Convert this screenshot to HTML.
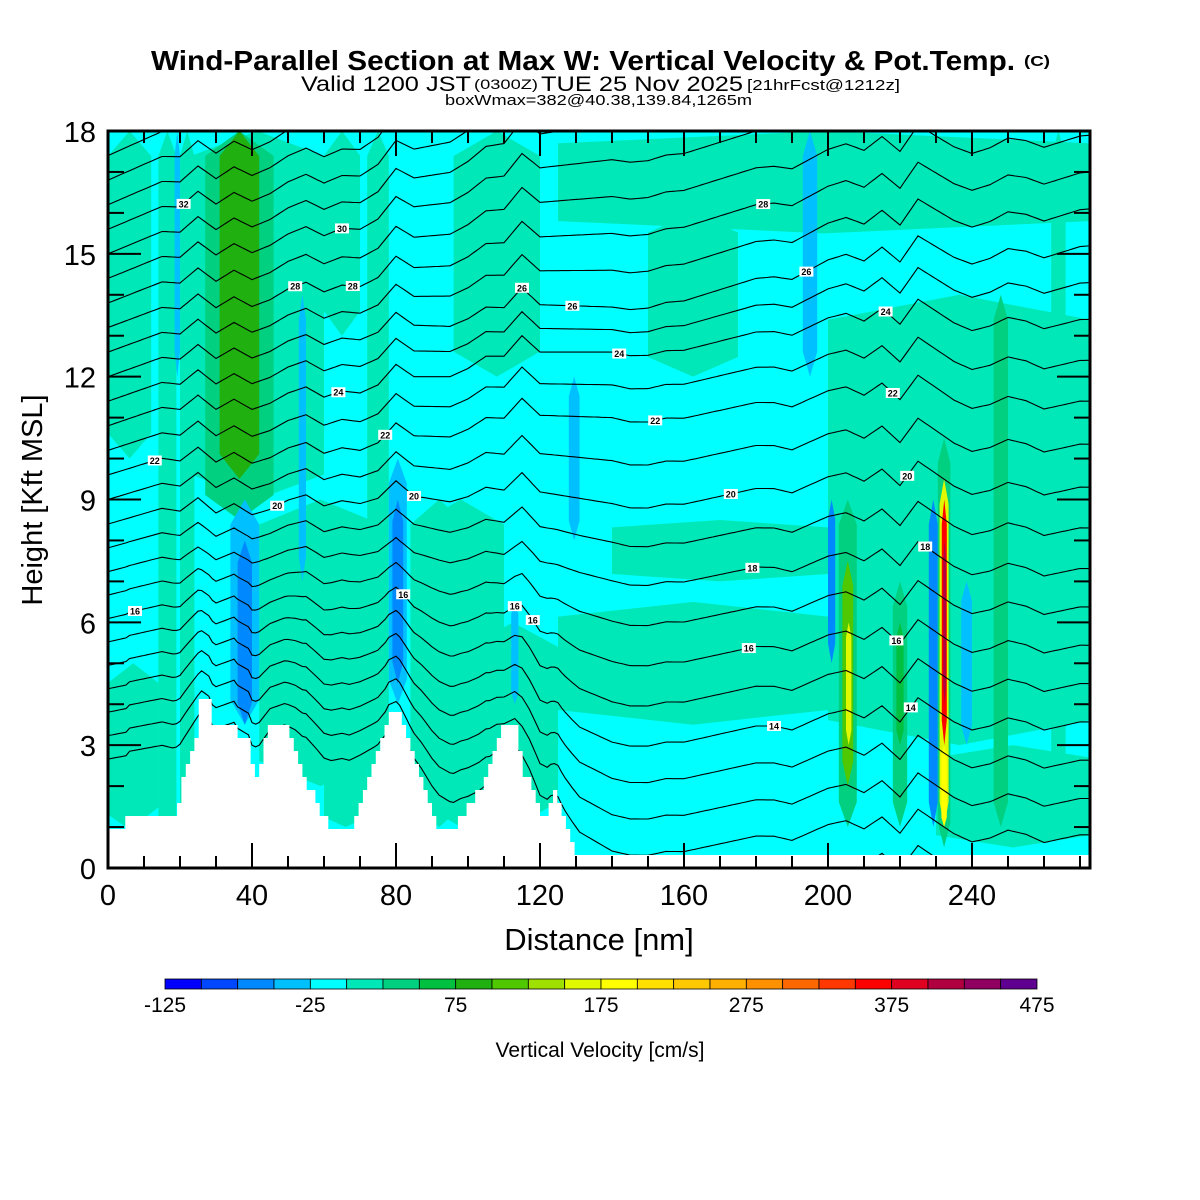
<!DOCTYPE html>
<html><head><meta charset="utf-8"><style>
html,body{margin:0;padding:0;background:#fff;}
svg{display:block;font-family:"Liberation Sans",sans-serif;}
</style></head><body>
<svg id="chart" width="1200" height="1200" viewBox="0 0 1200 1200" xmlns="http://www.w3.org/2000/svg">
<rect x="0" y="0" width="1200" height="1200" fill="#fff"/>
<g>
<text x="151" y="70" font-size="28" font-weight="bold" textLength="864" lengthAdjust="spacingAndGlyphs">Wind-Parallel Section at Max W: Vertical Velocity &amp; Pot.Temp.</text>
<text x="1024" y="66" font-size="15" font-weight="bold" textLength="26" lengthAdjust="spacingAndGlyphs">(C)</text>
</g>
<g>
<text x="301" y="91" font-size="21" textLength="170" lengthAdjust="spacingAndGlyphs">Valid 1200 JST</text>
<text x="474" y="89" font-size="14" textLength="64" lengthAdjust="spacingAndGlyphs">(0300Z)</text>
<text x="541" y="91" font-size="21" textLength="202" lengthAdjust="spacingAndGlyphs">TUE 25 Nov 2025</text>
<text x="747" y="90" font-size="15" textLength="153" lengthAdjust="spacingAndGlyphs">[21hrFcst@1212z]</text>
</g>
<text x="445" y="105" font-size="15" textLength="307" lengthAdjust="spacingAndGlyphs">boxWmax=382@40.38,139.84,1265m</text>
<defs><clipPath id="plotclip"><rect x="108" y="131" width="982" height="737"/></clipPath></defs>
<g id="plot" clip-path="url(#plotclip)">
<rect x="108" y="131" width="982" height="737" fill="#00ffff"/>
<g id="field"></g>
<g id="contours" fill="none" stroke="#000" stroke-width="1.1"></g>
<path id="terrain" fill="#fff" stroke="none"/>
<g id="clabels"></g>
</g>
<rect x="108" y="131" width="982" height="737" fill="none" stroke="#000" stroke-width="3"/>
<g id="ticks" stroke="#000" stroke-width="2"></g>
<g id="xlabels" font-size="29" text-anchor="middle"></g>
<g id="ylabels" font-size="29" text-anchor="end"></g>
<text x="599" y="950" font-size="31" text-anchor="middle">Distance [nm]</text>
<text transform="translate(42,500) rotate(-90)" font-size="29" text-anchor="middle">Height [Kft MSL]</text>
<g id="colorbar"></g>
<g id="cblabels" font-size="21" text-anchor="middle"></g>
<text x="600" y="1057" font-size="21" text-anchor="middle">Vertical Velocity [cm/s]</text>
</svg>
<script>
// ---- data ----
const cbBins = [-125,-100,-75,-50,-25,0,25,50,75,100,125,150,175,200,225,250,275,300,325,350,375,400,425,450,475];
const cbColors = ["#0000ff","#0048ff","#0088ff","#00c0ff","#00ffff","#00e8b8","#00d080","#00c040","#20b010","#50c800","#a0e000","#e0f800","#ffff00","#ffe000","#ffc800","#ffb000","#ff9000","#ff6800","#ff3800","#ff0000","#e00020","#b00040","#900060","#600090"];
const cbTickLabels = [-125,-25,75,175,275,375,475];
const xTickLabels = [0,40,80,120,160,200,240];
const yTickLabels = [0,3,6,9,12,15,18];
// terrain breakpoints: distance (nm), height (kft)
const terrNm = [0,5,5.5,18.5,25,26,28,29,35,36,39,40,41.5,45,49,52,54,58,62,67,74,77,78,81,84,87,90,92,96,98,103,106,108,110,113,115,117,119,120,122,123.5,125,126.5,129,131,273];
const terrK = [0.93,0.93,1.27,1.27,3.4,4.15,4.15,3.55,3.55,3.2,3.2,2.5,2.2,3.55,3.55,2.9,2.2,1.6,0.93,0.93,2.5,3.3,3.85,3.85,2.9,2.2,1.3,0.93,0.93,1.3,1.9,2.5,3.2,3.55,3.55,2.5,2.2,1.6,1.3,1.3,1.9,1.9,1.3,0.7,0.3,0.3];
// vertical velocity features: nm start, nm end, kft bottom, kft top, w (cm/s)
const wX0 = [42,86,0,0,14,20,23,27,31,60,72,84,100,125,140,200,125,230,44,60,0,18.5,34,36,53,78,79,112,128,193,200,203,204,205,218,219,228,237,230.5,231,231.5,231.6,232,246,262,150,96];
const wX1 = [76,110,14,12,19,24,60,46,42,70,78,100,125,200,200,272.8,272.8,272.8,52,72,10,20,42,40,55,83,82,114,131,197,202,208,207,206.5,222,221,230.5,240,234,233.5,233,233,232.8,250,266,175,120];
const wK0 = [2,1,1,10,0,0,9,8.5,9.5,13,0,1,1,3.5,7,3,15.5,0.5,2.5,1,1,12,3.5,3.5,7,4,4.5,4,8,12,5,1,2,3,1,3,1,3,0.5,1,1,3,4,1,1,12,12];
const wK1 = [9,9,5,18,18,18,18,18,18,18,18,9,6,6.5,8.5,14,18,3,5,3,3.5,18,9,8,14,10,9,6.5,12,18,9,9,7.5,6,7,6,9,7,10.5,9.5,3,9,8,14,18,16,18];
const wVal = [10,10,10,10,10,10,10,35,85,10,10,10,10,10,10,10,10,10,10,10,10,-40,-40,-60,-40,-40,-60,-40,-40,-40,-60,35,110,160,35,60,-60,-40,35,160,175,370,410,35,10,10,10];
// potential temperature contours (even levels), heights (kft) at anchor distances
const thLevels = [10,12,14,16,18,20,22,24,26,28,30,32,34,36,38];
const anchorNm = [0,70,140,273];
const thH0 = [2.4,3.6,4.8,6.0,7.2,8.4,9.6,10.8,12.0,13.2,14.4,15.6,16.8,18.0,19.2];
const thH70 = [2.2,3.5,4.8,6.1,7.5,8.8,10.1,11.5,12.8,14.1,15.5,16.8,18.1,19.4,20.7];
const thH140 = [-0.3,1.5,3.3,5.3,7.3,9.2,11.3,12.9,14.0,15.8,17.6,19.4,21,22.6,24];
const thH273 = [-0.4,1.4,3.3,5.2,7.1,9.1,11.2,13.2,15.0,16.8,18.6,20.4,22,23.6,25];
const bumps = [0,0.1,0.2,0.3,0.2,0.5,0.1,0.3,0.0,0.1,0.3,0.4,0.1,0.2,0.1,0.2,0.6,0.2,0.1,0.0,0.1,0.3,0.2,0.6,0.1,0.0,-0.1,-0.2,-0.3,-0.4,-0.4,-0.3,-0.3,-0.2,-0.1,0.0,0.1,0.1,0.0,0.2,0.4,0.5,0.3,0.6,0.2,0.8,0.5,0.2,0.0,0.1,0.3,0.2,0.0,0.1,0.2];
const labelNm = [7.5,13,21,65,52,68,64,77,47,85,82,113,118,115,129,142,152,173,179,178,185,182,194,216,218,222,219,227,223];
const labelT = [16,22,32,30,28,28,24,22,20,20,16,16,16,26,26,24,22,20,18,16,14,28,26,24,22,20,16,18,14];

// ---- scales ----
const NS = "http://www.w3.org/2000/svg";
const X = nm => 108 + nm * 3.6;
const Y = k => 868 - k * 40.944;
function mk(tag, attrs, parent) { const e = document.createElementNS(NS, tag); for (const a in attrs) e.setAttribute(a, attrs[a]); parent.appendChild(e); return e; }
function interp(xs, ys, x) {
  if (x <= xs[0]) return ys[0];
  for (let i = 1; i < xs.length; i++) if (x <= xs[i]) { const t = (x - xs[i-1]) / (xs[i] - xs[i-1] || 1); return ys[i-1] + t * (ys[i] - ys[i-1]); }
  return ys[ys.length - 1];
}
function colorFor(v) { let i = Math.floor((v + 125) / 25); i = Math.max(0, Math.min(cbColors.length - 1, i)); return cbColors[i]; }

// ---- field ----
const field = document.getElementById('field');
for (let i = 0; i < wVal.length; i++) {
  const x0 = X(wX0[i]), x1 = X(wX1[i]), yb = Y(wK0[i]), yt = Y(wK1[i]);
  const tp = Math.min(25, (yb - yt) * 0.12), xc = (x0 + x1) / 2;
  const p = mk('polygon', {points: `${x0},${yb - tp} ${x0},${yt + tp} ${xc},${yt} ${x1},${yt + tp} ${x1},${yb - tp} ${xc},${yb}`, fill: colorFor(wVal[i])}, field);
  
  
}

// ---- terrain ----
function terr(nm) { return interp(terrNm, terrK, nm); }
let tp = `M${X(0)},${Y(0)}`;
for (let nm = 0; nm < 273; nm += 1.2) {
  const k = Math.round(terr(nm + 0.6) / 0.3175) * 0.3175;
  tp += ` L${X(nm).toFixed(1)},${Y(k).toFixed(1)} L${X(nm + 1.2).toFixed(1)},${Y(k).toFixed(1)}`;
}
tp += ` L${X(273)},${Y(-1)} L${X(0)},${Y(-1)} Z`;
document.getElementById('terrain').setAttribute('d', tp);

// ---- contours ----
const cg = document.getElementById('contours');
const bumpNm = bumps.map((_, i) => i * 5);
function thHeight(li, nm) {
  const a = [thH0[li], thH70[li], thH140[li], thH273[li]];
  let h = interp(anchorNm, a, nm);
  h += interp(bumpNm, bumps, nm);
  h += terr(nm) * Math.max(0, 1 - h / 8) * 0.4;
  return h;
}
function levelHeight(T, nm) {
  const i = thLevels.indexOf(T);
  if (i >= 0) return thHeight(i, nm);
  const j = thLevels.indexOf(T - 1);
  return (thHeight(j, nm) + thHeight(j + 1, nm)) / 2;
}
for (let T = 10; T <= 37; T++) {
  let d = '';
  for (let nm = 0; nm <= 273; nm += 1) {
    const h = levelHeight(T, nm);
    d += (nm === 0 ? 'M' : 'L') + X(nm).toFixed(1) + ',' + Y(h).toFixed(1) + ' ';
  }
  const p = mk('path', {d: d}, cg);
  
  
}
const lg = document.getElementById('clabels');
for (let i = 0; i < labelNm.length; i++) {
  const x = X(labelNm[i]), y = Y(levelHeight(labelT[i], labelNm[i]));
  const g = mk('g', {}, lg);
  
  
  mk('rect', {x: x - 7, y: y - 5, width: 14, height: 10, fill: '#fff'}, g);
  const t = mk('text', {x: x, y: y + 3.5, 'font-size': 9, 'font-weight': 'bold', 'text-anchor': 'middle'}, g);
  t.textContent = labelT[i];
}

// ---- ticks & labels ----
const tk = document.getElementById('ticks');
for (let nm = 0; nm <= 270; nm += 10) {
  const L = nm % 40 === 0 ? 25 : 12, x = X(nm);
  mk('line', {x1: x, y1: 868, x2: x, y2: 868 - L}, tk);
  mk('line', {x1: x, y1: 131, x2: x, y2: 131 + L}, tk);
}
for (let k = 0; k <= 18; k++) {
  const L = k % 3 === 0 ? 33 : 16, y = Y(k);
  mk('line', {x1: 108, y1: y, x2: 108 + L, y2: y}, tk);
  mk('line', {x1: 1090, y1: y, x2: 1090 - L, y2: y}, tk);
}
const xl = document.getElementById('xlabels');
xTickLabels.forEach(v => { const t = mk('text', {x: X(v), y: 905}, xl);   t.textContent = v; });
const yl = document.getElementById('ylabels');
yTickLabels.forEach(v => { const t = mk('text', {x: 96, y: Y(v) + 11}, yl);   t.textContent = v; });

// ---- colorbar ----
const cb = document.getElementById('colorbar');
const cbX = v => 165 + (v + 125) / 600 * 872;
for (let i = 0; i < cbColors.length; i++) {
  const r = mk('rect', {x: cbX(cbBins[i]), y: 979, width: cbX(cbBins[i + 1]) - cbX(cbBins[i]), height: 10, fill: cbColors[i], stroke: '#000', 'stroke-width': 0.8}, cb);
  
  
}
const cbl = document.getElementById('cblabels');
cbTickLabels.forEach(v => { const t = mk('text', {x: cbX(v), y: 1012}, cbl);   t.textContent = v; });
</script>
</body></html>
